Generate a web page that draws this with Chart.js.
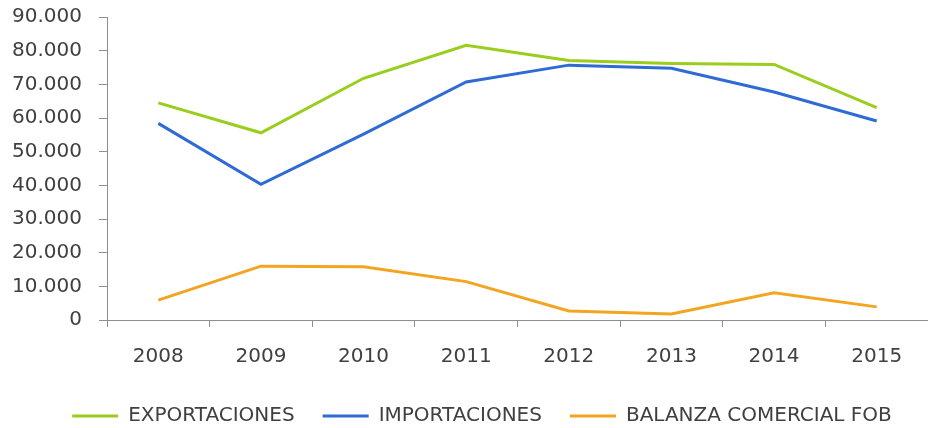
<!DOCTYPE html>
<html lang="es">
<head>
<meta charset="utf-8">
<title>Balanza comercial 2008-2015</title>
<script src="https://cdn.jsdelivr.net/npm/chart.js@4.4.1/dist/chart.umd.min.js"></script>
<style>
  html, body { margin: 0; padding: 0; background: #ffffff; }
  #chart-wrap { width: 928px; height: 428px; }
</style>
</head>
<body>
<div id="chart-wrap">
  <canvas id="balanza-chart" width="928" height="428"></canvas>
</div>
<script>
// Datos (millones, aprox.)
const years = ['2008', '2009', '2010', '2011', '2012', '2013', '2014', '2015'];
const exportaciones = [64500, 55600, 71800, 81600, 77100, 76200, 75900, 63100];
const importaciones = [58400, 40300, 55200, 70700, 75700, 74800, 67700, 59100];
const balanzaFob = [5900, 16000, 15800, 11400, 2700, 1800, 8100, 3900];

// Eje Y
const yMin = 0;
const yMax = 90000;
const yStep = 10000;

const textColor = '#404040';
const axisColor = '#8f8f8f';

// Formato con punto como separador de miles (90.000)
function formatMiles(value) {
  return String(value).replace(/\B(?=(\d{3})+(?!\d))/g, '.');
}

// Desplaza la leyenda un poco a la derecha, como en el original
const legendShift = {
  id: 'legendShift',
  beforeDraw(chart) {
    if (chart.legend) {
      chart.legend.left = 18;
      chart.legend.right = chart.width + 18;
    }
  }
};

/**
 * Crea el gráfico de líneas de la balanza comercial
 */
function initBalanzaChart() {
  const canvas = document.getElementById('balanza-chart');
  if (!canvas) return;

  try {
    const existingChart = Chart.getChart(canvas);
    if (existingChart) {
      existingChart.destroy();
    }

    Chart.defaults.font.family = '"DejaVu Sans", sans-serif';
    Chart.defaults.font.size = 20;
    Chart.defaults.color = textColor;

    new Chart(canvas, {
      type: 'line',
      plugins: [legendShift],
      data: {
        labels: years,
        datasets: [
          {
            label: 'EXPORTACIONES',
            data: exportaciones,
            borderColor: '#9acd1e',
            backgroundColor: '#9acd1e',
            borderWidth: 3,
            pointRadius: 0,
            tension: 0,
            fill: false
          },
          {
            label: 'IMPORTACIONES',
            data: importaciones,
            borderColor: '#2f6bd4',
            backgroundColor: '#2f6bd4',
            borderWidth: 3,
            pointRadius: 0,
            tension: 0,
            fill: false
          },
          {
            label: 'BALANZA COMERCIAL FOB',
            data: balanzaFob,
            borderColor: '#f3a521',
            backgroundColor: '#f3a521',
            borderWidth: 3,
            pointRadius: 0,
            tension: 0,
            fill: false
          }
        ]
      },
      options: {
        responsive: false,
        animation: false,
        layout: {
          padding: { top: 17, left: 0, right: 0, bottom: -8 }
        },
        plugins: {
          legend: {
            position: 'bottom',
            labels: {
              usePointStyle: true,
              pointStyle: 'line',
              pointStyleWidth: 46,
              padding: 28,
              color: textColor,
              font: { size: 20 }
            }
          },
          tooltip: { enabled: false }
        },
        scales: {
          x: {
            offset: true,
            afterFit: function(scale) {
              scale.height = 58;
            },
            grid: {
              offset: true,
              drawOnChartArea: false,
              drawTicks: true,
              tickLength: 7,
              color: axisColor
            },
            border: { color: axisColor, width: 1 },
            ticks: {
              padding: 18,
              color: textColor
            }
          },
          y: {
            min: yMin,
            max: yMax,
            afterFit: function(scale) {
              // ancho fijo del eje y sin margen extra arriba
              scale.width = 107;
              scale.paddingTop = 0;
            },
            grid: {
              drawOnChartArea: false,
              drawTicks: true,
              tickLength: 8,
              color: axisColor
            },
            border: { color: axisColor, width: 1 },
            ticks: {
              stepSize: yStep,
              padding: 17,
              color: textColor,
              callback: function(value) {
                return formatMiles(value);
              }
            }
          }
        }
      }
    });
  } catch (error) {
    console.error('Error al crear el gráfico:', error);
  }
}

initBalanzaChart();
</script>
</body>
</html>
